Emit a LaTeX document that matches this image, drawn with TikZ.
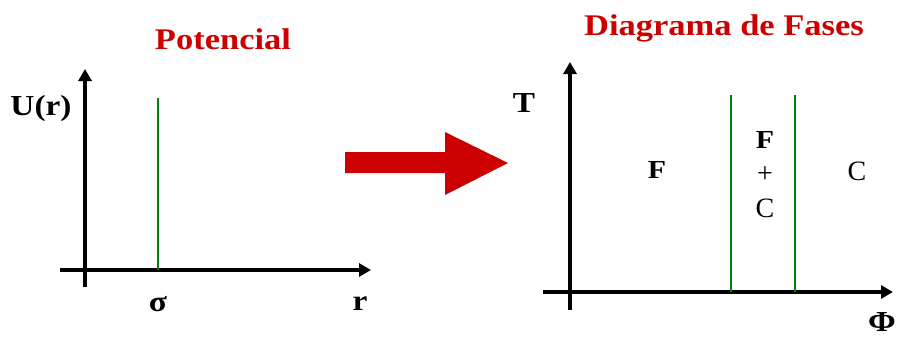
\documentclass[tikz,border=0pt]{standalone}
\usepackage{fontspec}
\setmainfont{Liberation Serif}
\newfontfamily\widefont[FakeStretch=1.15]{Liberation Serif}
\usetikzlibrary{arrows.meta}
\definecolor{tred}{HTML}{CC0000}
\definecolor{lgreen}{HTML}{008000}
\begin{document}
\begin{tikzpicture}[x=1pt,y=-1pt,
  axis/.style={line width=3.6pt,-{Triangle[length=12pt,width=13pt]}},
  bound/.style={lgreen,line width=1.3pt},
  title/.style={anchor=base,text=tred,font=\fontsize{30}{36}\widefont\bfseries},
  lab/.style={anchor=base,font=\fontsize{29}{34}\widefont\bfseries},
  reg/.style={anchor=base,font=\fontsize{26}{30}\widefont\bfseries},
  regn/.style={anchor=base,font=\fontsize{28}{32}\selectfont}]
\useasboundingbox (0,0) rectangle (898,340);
% titles
\node[title] (tpot) at (223,49) {Potencial};
\node[title] (tfas) at (724,35) {Diagrama de Fases};
% left axes
\coordinate (ly0) at (85,287);
\coordinate (ly1) at (85,69);
\coordinate (lx0) at (60,270);
\coordinate (lx1) at (371,270);
\coordinate (sg0) at (158,98);
\coordinate (sg1) at (158,270);
\draw[axis] (ly0) -- (ly1);
\draw[axis] (lx0) -- (lx1);
\draw[bound] (sg0) -- (sg1);
\node[lab] (ur) at (41,115) {U(r)};
\node[lab] (sig) at (158,311) {σ};
\node[lab] (rr) at (360,310) {r};
% big arrow
\fill[tred] (345,152) -- (445,152) -- (445,132) -- (508,163) -- (445,195) -- (445,173) -- (345,173) -- cycle;
% right axes
\coordinate (ry0) at (570,310);
\coordinate (ry1) at (570,62);
\coordinate (rx0) at (543,292);
\coordinate (rx1) at (893,292);
\coordinate (g1a) at (731,95);
\coordinate (g1b) at (731,292);
\coordinate (g2a) at (795,95);
\coordinate (g2b) at (795,292);
\draw[axis] (ry0) -- (ry1);
\draw[axis] (rx0) -- (rx1);
\draw[bound] (g1a) -- (g1b);
\draw[bound] (g2a) -- (g2b);
\node[lab] (tt) at (524,112) {T};
\node[lab] (phi) at (882,331) {Φ};
\node[reg] (ff) at (657,178) {F};
\node[reg] (fc1) at (765,148) {F};
\node[regn] (fc2) at (765,182) {+};
\node[regn] (fc3) at (765,217) {C};
\node[regn] (cc) at (857,180) {C};
\end{tikzpicture}
\end{document}
